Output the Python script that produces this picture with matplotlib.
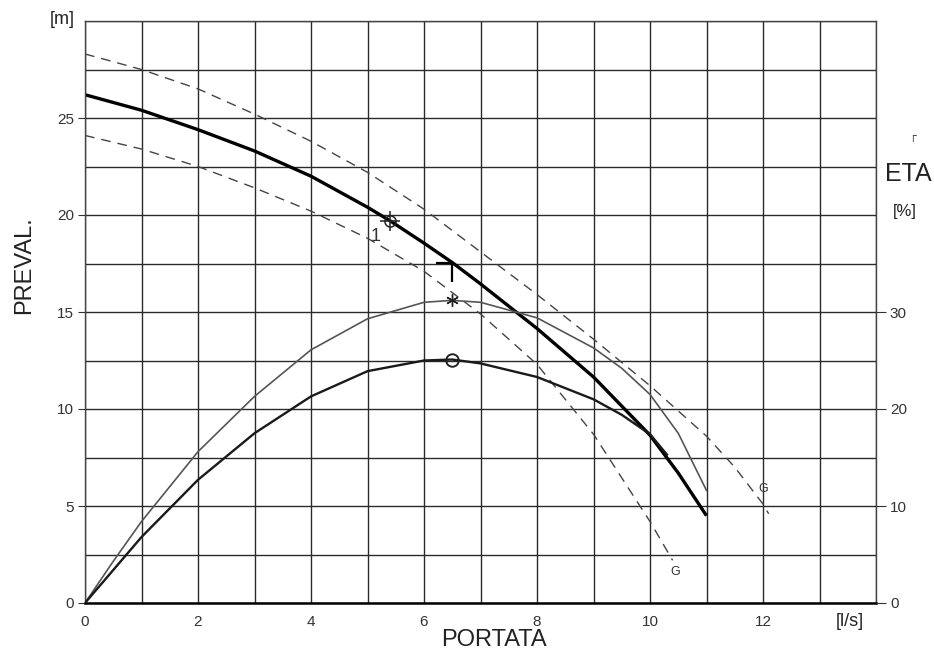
import numpy as np
import matplotlib.pyplot as plt
from matplotlib.path import Path

plt.rcParams['font.family'] = ['Liberation Sans', 'DejaVu Sans']

# portata [l/s] -> prevalenza [m]
q_head = [0, 1, 2, 3, 4, 5, 5.4, 6, 6.5, 7, 8, 9, 10, 10.5, 11]
h_head = [26.2, 25.4, 24.4, 23.3, 22.0, 20.4, 19.7, 18.55, 17.55, 16.45, 14.15, 11.65, 8.65, 6.7, 4.5]

q_upper = [0, 1, 2, 3, 4, 5, 6, 7, 8, 9, 10, 11, 11.5, 12, 12.1]
h_upper = [28.3, 27.5, 26.5, 25.2, 23.8, 22.2, 20.3, 18.1, 15.9, 13.6, 11.2, 8.6, 7.0, 5.1, 4.6]

q_lower = [0, 1, 2, 3, 4, 5, 6, 6.5, 7, 8, 9, 10, 10.4]
h_lower = [24.1, 23.4, 22.5, 21.4, 20.2, 18.8, 17.1, 16.0, 14.9, 12.3, 8.7, 4.2, 2.2]

# rendimento ETA [%]
q_eta1 = [0, 0.5, 1, 2, 3, 4, 5, 6, 6.5, 7, 8, 9, 9.5, 10, 10.5, 11]
eta1 = [0, 4.3, 8.4, 15.6, 21.3, 26.1, 29.3, 31.0, 31.2, 31.0, 29.4, 26.3, 24.2, 21.5, 17.5, 11.6]

q_eta2 = [0, 0.5, 1, 2, 3, 4, 5, 6, 6.5, 7, 8, 9, 9.5, 10, 10.3]
eta2 = [0, 3.4, 6.8, 12.7, 17.5, 21.3, 23.9, 25.0, 25.1, 24.7, 23.3, 21.0, 19.4, 17.4, 15.3]

# marked points
p_duty = (5.4, 19.7)
p_corner = (6.5, 17.55)
p_star = (6.5, 31.2)
p_circle = (6.5, 25.1)

x_ticks = [0, 2, 4, 6, 8, 10, 12]
y_ticks = [0, 5, 10, 15, 20, 25]
eta_ticks = [0, 10, 20, 30]

W, H = 934, 668
fig = plt.figure(figsize=(W / 100, H / 100), dpi=100)
ax = fig.add_axes([85 / W, 1 - 603 / H, (876 - 85) / W, (603 - 21) / H])
ax.set_xlim(0, 14)
ax.set_ylim(0, 30)
ax.set_xticks(x_ticks)
ax.set_yticks(y_ticks)
ax.set_xticks(np.arange(0, 15, 1), minor=True)
ax.set_yticks(np.arange(0, 30.1, 2.5), minor=True)
ax.grid(which='both', color='#2a2a2a', linewidth=1.0)
ax.tick_params(which='minor', length=0)
ax.tick_params(axis='y', which='major', length=5, labelsize=11, colors='#333333', pad=3)
ax.tick_params(axis='x', which='major', length=0, labelsize=11, colors='#333333', pad=9)
for s in ['top', 'right', 'left']:
    ax.spines[s].set_color('#444444')
    ax.spines[s].set_linewidth(1.0)
ax.spines['bottom'].set_linewidth(1.8)
ax.spines['bottom'].set_color('black')

ax.plot(q_upper, h_upper, color='#444444', lw=1.0, ls=(0, (7, 5)))
ax.plot(q_lower, h_lower, color='#444444', lw=1.0, ls=(0, (7, 5)))
ax.plot(q_head, h_head, color='black', lw=2.4, solid_capstyle='butt', solid_joinstyle='round')

ax.plot(*p_duty, marker='o', ms=8, mfc='none', mec='#222222', mew=1.1)
ax.plot(*p_duty, marker='+', ms=15, mec='#222222', mew=1.1)
corner = Path([(-1.0, 0), (0, 0), (0, -1.2)], [Path.MOVETO, Path.LINETO, Path.LINETO])
ax.plot(*p_corner, marker=corner, ms=28, mfc='none', mec='black', mew=1.6)
ax.text(p_duty[0] - 0.25, p_duty[1] - 0.8, '1', fontsize=13, color='#333333',
        ha='center', va='center')
ax.text(q_upper[-1] - 0.1, h_upper[-1] + 1.3, 'G', fontsize=9, color='#333333',
        ha='center', va='center')
ax.text(q_lower[-1] + 0.05, h_lower[-1] - 0.6, 'G', fontsize=9, color='#333333',
        ha='center', va='center')

ax2 = ax.twinx()
ax2.set_ylim(0, 60)
ax2.set_yticks(eta_ticks)
ax2.tick_params(axis='y', length=7, labelsize=11, colors='#333333', pad=3)
for s in ax2.spines.values():
    s.set_visible(False)
ax2.plot(q_eta1, eta1, color='#555555', lw=1.2, solid_joinstyle='round')
ax2.plot(q_eta2, eta2, color='#1a1a1a', lw=1.7, solid_joinstyle='round')
ax2.plot(*p_star, marker=(6, 2, 0), ms=9, mec='#222222', mew=1.0)
ax2.plot(*p_circle, marker='o', ms=9, mfc='none', mec='#222222', mew=1.4)

fig.text(75 / W, 1 - 19 / H, '[m]', fontsize=13, ha='right', va='center', color='#222222')
fig.text(850 / W, 1 - 622 / H, '[l/s]', fontsize=13, ha='center', va='center', color='#222222')
fig.text(494 / W, 1 - 640 / H, 'PORTATA', fontsize=17, ha='center', va='center', color='#222222')
fig.text(24 / W, 1 - 265 / H, 'PREVAL.', fontsize=17, rotation=90, ha='center', va='center',
         color='#222222')
fig.text(912 / W, 1 - 137 / H, '┌', fontsize=8, ha='center', va='center', color='#444444',
         family='DejaVu Sans')
fig.text(885 / W, 1 - 174 / H, 'ETA', fontsize=18, ha='left', va='center', color='#222222')
fig.text(905 / W, 1 - 212 / H, '[%]', fontsize=12, ha='center', va='center', color='#222222')

fig.savefig('out.png', dpi=100)
